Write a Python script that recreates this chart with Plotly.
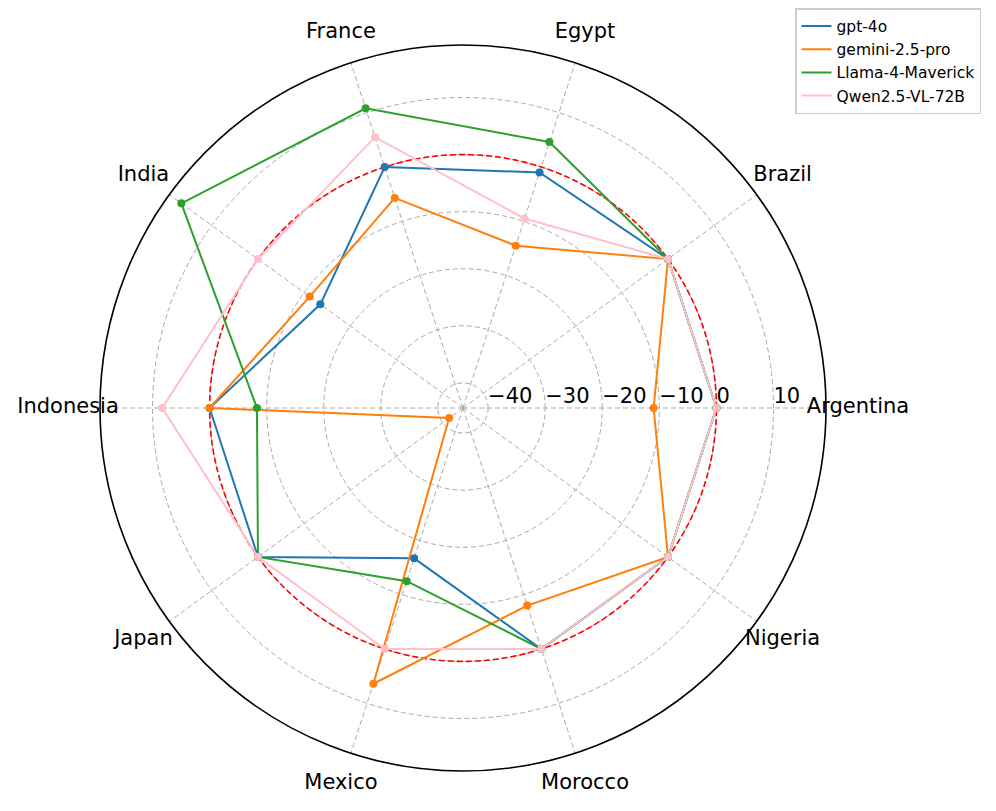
import plotly.graph_objects as go
import numpy as np

categories = ["Argentina", "Brazil", "Egypt", "France", "India",
              "Indonesia", "Japan", "Mexico", "Morocco", "Nigeria"]
angles = [0, 36, 72, 108, 144, 180, 216, 252, 288, 324]

gpt4o = [0, 0, -1.0, 0, -13.5, 0, 0, -16.7, 0, 0]
gemini = [-11.0, 0, -14.5, -5.7, -11.2, 0, -41.4, 6.4, -8.0, 0]
llama = [0, 0, 4.6, 10.8, 16.6, -8.3, 0, -12.5, 0, 0]
qwen = [0, 0, -9.5, 5.5, 0, 8.3, 0, 0, 0, 0]

series = [("gpt-4o", gpt4o, "#1f77b4"),
          ("gemini-2.5-pro", gemini, "#ff7f0e"),
          ("Llama-4-Maverick", llama, "#2ca02c"),
          ("Qwen2.5-VL-72B", qwen, "pink")]

radial_ticks = [-40, -30, -20, -10, 0, 10]
r_range = [-44.4, 19.2]

FONT = "DejaVu Sans"
W, H = 996, 811
OFF = 8  # page body margin in the browser


def dom_x(a, b):
    return [(a - OFF) / W, (b - OFF) / W]


def dom_y(top, bottom):
    return [1 - (bottom - OFF) / H, 1 - (top - OFF) / H]


fig = go.Figure()

# reference circle at 0
circ_theta = list(np.linspace(0, 360, 361))
fig.add_trace(go.Scatterpolar(r=[0] * len(circ_theta), theta=circ_theta, mode="lines",
                              line=dict(color="red", width=1.6, dash="6px,3px"),
                              showlegend=False, hoverinfo="skip"))

for name, vals, color in series:
    r = vals + [vals[0]]
    th = angles + [angles[0]]
    fig.add_trace(go.Scatterpolar(r=r, theta=th, mode="lines", name=name,
                                  line=dict(color=color, width=2)))
    fig.add_trace(go.Scatterpolar(r=vals, theta=angles, mode="markers", name=name,
                                  marker=dict(color=color, size=8),
                                  showlegend=False))

# radial tick labels
fig.add_trace(go.Scatterpolar(r=radial_ticks, theta=[0] * len(radial_ticks), mode="text",
                              text=[f"{v}".replace("-", "\u2212") for v in radial_ticks],
                              textposition="top right",
                              textfont=dict(family=FONT, size=21, color="black"),
                              showlegend=False, hoverinfo="skip", cliponaxis=False))

# category labels on an overlaid, invisible polar subplot
fig.add_trace(go.Scatterpolar(r=[0.9875] * len(categories), theta=angles, mode="text",
                              text=categories, textposition="middle center",
                              textfont=dict(family=FONT, size=21, color="black"),
                              showlegend=False, hoverinfo="skip", cliponaxis=False,
                              subplot="polar2"))

fig.update_layout(
    width=W, height=H,
    margin=dict(l=0, r=0, t=0, b=0),
    paper_bgcolor="white",
    font=dict(family=FONT, size=14, color="black"),
    polar=dict(
        domain=dict(x=dom_x(100, 826), y=dom_y(45, 771)),
        bgcolor="white",
        radialaxis=dict(range=r_range, tickvals=radial_ticks, showticklabels=False,
                        ticks="", showline=False, gridcolor="#aaaaaa", griddash="5px,3px",
                        gridwidth=1, angle=0),
        angularaxis=dict(tickmode="array", tickvals=angles, showticklabels=False,
                         ticks="", direction="counterclockwise", rotation=0,
                         thetaunit="degrees",
                         showline=True, linecolor="black", linewidth=1.6,
                         gridcolor="#aaaaaa", griddash="5px,3px", gridwidth=1),
    ),
    polar2=dict(
        domain=dict(x=dom_x(63, 863), y=dom_y(8, 808)),
        bgcolor="rgba(0,0,0,0)",
        radialaxis=dict(range=[0, 1], visible=False),
        angularaxis=dict(visible=False, direction="counterclockwise", rotation=0,
                         thetaunit="degrees"),
    ),
    legend=dict(x=(795 - OFF) / W, y=1 - (8 - OFF) / H, xanchor="left", yanchor="top",
                bordercolor="#cccccc", borderwidth=1.5, bgcolor="white",
                font=dict(family=FONT, size=15.5), tracegroupgap=0),
    showlegend=True,
)

fig.write_html("out.html")
